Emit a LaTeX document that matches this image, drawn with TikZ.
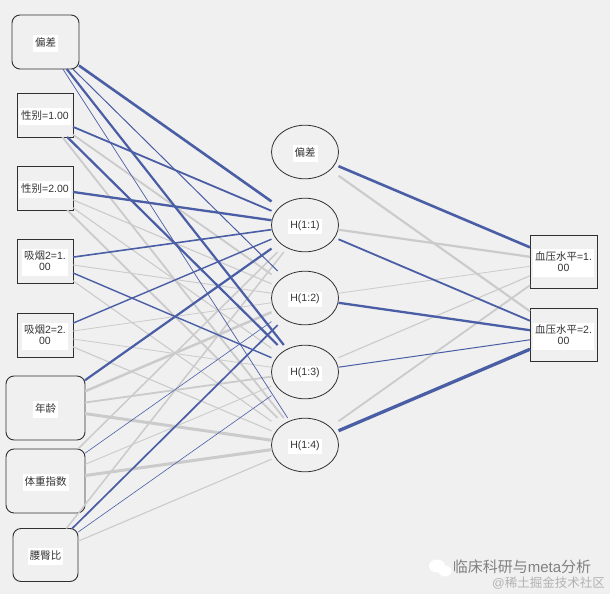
\documentclass[tikz,border=0pt]{standalone}
\usepackage{fontspec}
\setmainfont{Liberation Sans}
\newfontfamily\cjk{Noto Sans CJK SC}
\definecolor{bggrey}{HTML}{F0F0F0}
\definecolor{linkblue}{HTML}{4A5EA6}
\definecolor{linkgrey}{HTML}{CBCBCB}
\definecolor{edgegrey}{HTML}{303030}
\newcommand{\zh}[1]{{\cjk #1}}
\newcommand{\lbl}[1]{{\setlength{\fboxsep}{2pt}\raisebox{-1.5pt}[\height][\depth]{\colorbox{white}{\begin{tabular}{@{}c@{}}#1\end{tabular}}}}}
\tikzset{
  unit/.style={rectangle,inner sep=0pt,outer sep=0pt,text=black!80,font=\fontsize{10.5}{11}\selectfont},
  factor/.style={unit,draw=edgegrey,line width=0.9pt,minimum width=56pt,minimum height=44pt},
  covar/.style={unit,draw=edgegrey,line width=0.9pt,rounded corners=8pt},
  hidden/.style={unit,minimum width=67pt,minimum height=54pt},
  output/.style={unit,draw=edgegrey,line width=0.9pt,minimum width=67pt,minimum height=53pt},
  blue/.style={draw=linkblue},
  grey/.style={draw=linkgrey}
}
\begin{document}
\begin{tikzpicture}[x=1pt,y=-1pt]
\useasboundingbox (0,0) rectangle (610,594);
\fill[bggrey] (0,0) rectangle (610,594);

\node[covar,minimum width=67pt,minimum height=54pt] (bias) at (45.5,42) {\lbl{\zh{偏差}}};
\node[factor] (sexa) at (45,115) {\lbl{\zh{性别}=1.00}};
\node[factor] (sexb) at (45,188) {\lbl{\zh{性别}=2.00}};
\node[factor] (smokea) at (45,261) {\lbl{\zh{吸烟}2=1.\\00}};
\node[factor] (smokeb) at (45,335) {\lbl{\zh{吸烟}2=2.\\00}};
\node[covar,minimum width=79pt,minimum height=64pt] (age) at (45.5,408) {\lbl{\zh{年龄}}};
\node[covar,minimum width=79pt,minimum height=64pt] (bmi) at (45.5,481) {\lbl{\zh{体重指数}}};
\node[covar,minimum width=65pt,minimum height=53pt] (whr) at (45.5,555) {\lbl{\zh{腰臀比}}};

\node[hidden] (hb) at (305,152) {\lbl{\zh{偏差}}};
\node[hidden] (ha) at (305,225) {\lbl{H(1:1)}};
\node[hidden] (hc) at (305,298) {\lbl{H(1:2)}};
\node[hidden] (hd) at (305,372) {\lbl{H(1:3)}};
\node[hidden] (he) at (305,445) {\lbl{H(1:4)}};

\node[output] (oa) at (563.5,261.5) {\lbl{\zh{血压水平}=1.\\00}};
\node[output] (ob) at (563.5,335) {\lbl{\zh{血压水平}=2.\\00}};

\foreach \n in {hb,ha,hc,hd,he}
  \draw[edgegrey,line width=0.8pt] (\n.center) ellipse [x radius=33.5pt,y radius=26.8pt];

\foreach \a/\b/\c/\w in {
  sexa/hc/grey/1.8, sexa/he/grey/1.8, sexb/hc/grey/1.1, sexb/hd/grey/1.1, sexb/he/grey/1.8,
  smokea/hc/grey/0.9, smokea/he/grey/1.1, smokeb/hc/grey/0.8, smokeb/hd/grey/0.8, smokeb/he/grey/1.1,
  age/hc/grey/2.5, age/hd/grey/1.8, age/he/grey/3,
  bmi/ha/grey/1.5, bmi/hd/grey/0.9, bmi/he/grey/3,
  whr/ha/grey/1.5, whr/he/grey/1.1,
  bias/ha/blue/2.6, bias/hc/blue/1, bias/hd/blue/2.2, bias/he/blue/0.7,
  sexa/ha/blue/1.8, sexa/hd/blue/2.2, sexb/ha/blue/2.3,
  smokea/ha/blue/1.6, smokea/hd/blue/1.4, smokeb/ha/blue/1.4,
  age/ha/blue/2.2, bmi/hc/blue/0.6, whr/hc/blue/1.7, whr/hd/blue/0.6,
  hb/ob/grey/2.1, ha/oa/grey/2.2, hc/oa/grey/0.8, hd/oa/grey/1.1, he/oa/grey/1.8,
  hb/oa/blue/2.6, ha/ob/blue/1.8, hc/ob/blue/2.3, hd/ob/blue/1, he/ob/blue/3.3}
  \draw[\c,line width=\w pt] (\a) -- (\b);

\fill[white] (437,566) ellipse [x radius=8pt,y radius=6.5pt];
\fill[white] (445,571) ellipse [x radius=6.5pt,y radius=5.5pt];
\node[inner sep=0pt,text=black!50,font=\fontsize{15}{16}\selectfont] (mark) at (522,566.5) {\zh{临床科研与}meta\zh{分析}};
\node[inner sep=0pt,text=black!30,font=\fontsize{12.5}{13}\selectfont] (site) at (548.5,583) {@\zh{稀土掘金技术社区}};
\end{tikzpicture}
\end{document}
